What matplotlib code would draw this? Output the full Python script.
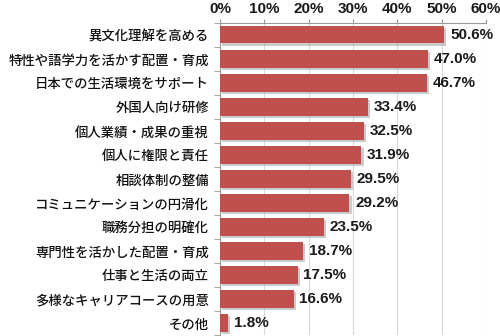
import matplotlib
matplotlib.use("Agg")
import matplotlib.pyplot as plt
import matplotlib.patheffects as pe
import numpy as np

plt.rcParams['font.family'] = ['Noto Sans CJK JP', 'DejaVu Sans']

labels = [
    "異文化理解を高める",
    "特性や語学力を活かす配置・育成",
    "日本での生活環境をサポート",
    "外国人向け研修",
    "個人業績・成果の重視",
    "個人に権限と責任",
    "相談体制の整備",
    "コミュニケーションの円滑化",
    "職務分担の明確化",
    "専門性を活かした配置・育成",
    "仕事と生活の両立",
    "多様なキャリアコースの用意",
    "その他",
]
values = [50.6, 47.0, 46.7, 33.4, 32.5, 31.9, 29.5, 29.2, 23.5, 18.7, 17.5, 16.6, 1.8]
xticks = [0, 10, 20, 30, 40, 50, 60]

num_font = ['Liberation Sans', 'DejaVu Sans']

fig = plt.figure(figsize=(5, 3.36), dpi=100)
ax = fig.add_axes([0.44, 0.003, 0.532, 0.929])

y = np.arange(len(labels))
bars = ax.barh(y, values, height=0.72, color="#C0504D", zorder=3)
for b in bars:
    b.set_path_effects([pe.SimplePatchShadow(offset=(1.5, -1.5), shadow_rgbFace="#999999", alpha=0.5), pe.Normal()])

for yi, v in zip(y, values):
    ax.text(v + 1.3, yi, f"{v:.1f}%", va="center", ha="left",
            fontsize=11, fontweight="bold", color="#1a1a1a", family=num_font)

ax.set_ylim(len(labels) - 0.5, -0.5)
ax.set_xlim(0, 60)
ax.set_yticks(y)
ax.set_yticklabels(labels, fontsize=9.6, color="#111111", fontweight="medium")
ax.set_yticks(np.arange(len(labels) + 1) - 0.5, minor=True)
ax.tick_params(axis="y", which="major", length=0, pad=8)
ax.tick_params(axis="y", which="minor", length=4, color="#999999")

ax.xaxis.tick_top()
ax.set_xticks(xticks)
ax.set_xticklabels([f"{t}%" for t in xticks], fontsize=11, fontweight="bold",
                   color="#1a1a1a", family=num_font)
ax.tick_params(axis="x", length=3, color="#999999", pad=2)
ax.grid(axis="x", color="#d9d9d9", linewidth=0.8, zorder=0)

for s in ["right", "bottom"]:
    ax.spines[s].set_visible(False)
for s in ["left", "top"]:
    ax.spines[s].set_color("#999999")
    ax.spines[s].set_linewidth(0.8)

fig.savefig("out.png", dpi=100)
